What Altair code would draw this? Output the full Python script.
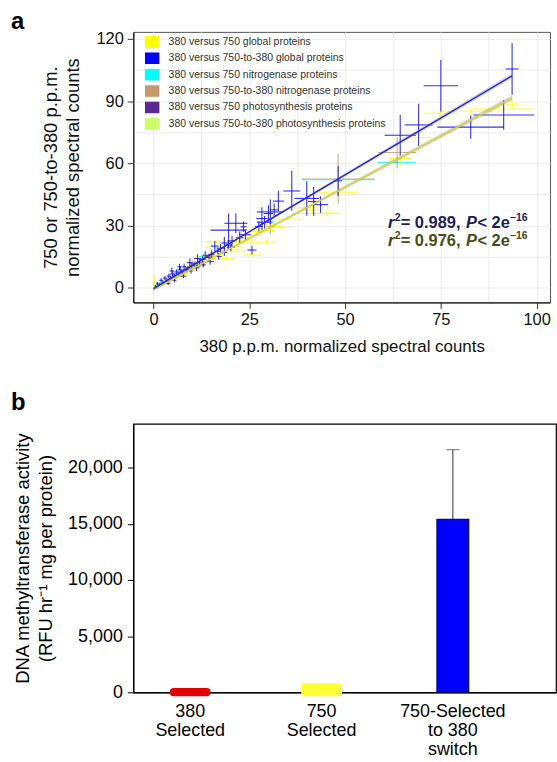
import altair as alt
import pandas as pd

FONT = "Liberation Sans"

# ---------------- panel a data ----------------
series_names = [
    "380 versus 750 global proteins",
    "380 versus 750-to-380 global proteins",
    "380 versus 750 nitrogenase proteins",
    "380 versus 750-to-380 nitrogenase proteins",
    "380 versus 750 photosynthesis proteins",
    "380 versus 750-to-380 photosynthesis proteins",
]
series_colors = ["#ffff00", "#0000ff", "#00ffff", "#c49a6c", "#5b2a8c", "#ccff66"]

# (x, y, x error, y error)
yellow_pts = [
    (93.6, 88.5, 1.7, 2.5), (91.4, 86.2, 7.9, 1.0), (82.8, 85.1, 8.0, 2.0), (75.0, 84.1, 4.5, 3.6),
    (69.2, 72.3, 3.3, 1.5), (64.4, 62.3, 3.0, 3.6), (48.2, 46.0, 5.0, 2.0), (42.3, 35.7, 6.3, 1.0),
    (45.5, 36.0, 2.5, 1.5), (39.5, 38.5, 3.0, 1.5), (41.5, 37.5, 2.0, 2.0), (35.0, 33.0, 4.0, 1.5),
    (31.0, 29.5, 2.5, 2.0), (28.5, 27.5, 3.5, 1.5), (27.0, 26.8, 2.0, 1.5), (25.5, 25.0, 3.0, 1.2),
    (24.5, 23.0, 2.0, 1.5), (23.0, 21.5, 4.5, 1.2), (21.5, 22.5, 3.0, 1.5), (20.0, 18.5, 2.5, 1.5),
    (18.5, 19.5, 5.0, 1.2), (16.4, 22.1, 3.2, 1.0), (17.5, 16.5, 3.5, 1.2), (16.0, 15.0, 2.0, 1.5),
    (14.5, 13.5, 3.0, 1.0), (13.5, 14.8, 2.5, 1.2), (12.5, 11.5, 2.0, 1.0), (11.0, 11.0, 2.5, 1.0),
    (10.0, 9.0, 1.5, 1.2), (9.0, 8.5, 2.0, 1.0), (8.0, 7.0, 1.5, 0.8), (7.0, 6.5, 1.8, 1.0),
    (6.0, 5.0, 1.2, 0.8), (5.0, 4.5, 1.5, 1.0), (4.0, 3.5, 1.0, 0.8), (3.0, 2.5, 1.2, 0.8),
    (2.0, 2.0, 0.8, 0.6), (1.0, 1.0, 0.6, 0.5), (0.2, 3.0, 0.3, 3.0), (26.0, 15.7, 2.5, 1.0),
    (29.5, 22.0, 3.0, 1.0), (33.5, 29.0, 2.5, 1.5), (22.0, 17.5, 2.0, 1.0), (19.0, 14.0, 2.0, 1.0),
]
blue_pts = [
    (93.6, 105.5, 1.7, 12.4), (75.0, 97.4, 4.5, 12.4), (82.8, 77.4, 8.7, 5.6), (91.4, 83.3, 7.9, 7.2),
    (69.2, 78.5, 3.6, 10.2), (64.4, 73.5, 4.1, 9.8), (48.2, 51.5, 1.0, 7.2), (40.0, 43.0, 3.2, 8.4),
    (41.8, 41.5, 1.5, 7.0), (43.6, 40.0, 2.0, 4.0), (36.1, 46.6, 2.2, 9.6), (32.6, 41.7, 1.5, 5.0),
    (30.5, 36.5, 3.5, 6.0), (28.3, 33.3, 1.5, 5.5), (30.0, 35.7, 1.2, 4.0), (31.5, 37.5, 1.0, 3.0),
    (29.0, 31.5, 2.0, 3.0), (27.5, 29.5, 1.0, 2.5), (19.6, 27.7, 4.7, 8.0), (21.5, 31.0, 3.0, 4.8),
    (23.5, 29.3, 0.8, 2.5), (25.7, 18.1, 1.2, 2.0), (24.0, 25.5, 1.5, 2.5), (22.5, 24.0, 1.0, 3.0),
    (20.5, 22.5, 1.2, 2.5), (19.5, 20.5, 1.0, 2.0), (18.5, 21.5, 0.8, 3.0), (17.5, 19.0, 1.0, 2.0),
    (16.8, 17.5, 0.8, 1.5), (16.0, 20.0, 1.0, 2.5), (15.2, 16.0, 0.8, 2.0), (14.5, 14.5, 1.0, 1.5),
    (13.5, 15.5, 0.7, 2.0), (12.8, 13.5, 0.8, 1.5), (12.0, 12.0, 0.6, 1.5), (11.5, 14.0, 1.0, 2.0),
    (10.8, 11.5, 0.8, 1.2), (10.0, 10.5, 0.7, 1.5), (9.5, 12.0, 0.8, 2.0), (9.0, 9.5, 0.6, 1.0),
    (8.5, 8.5, 0.8, 1.5), (8.0, 10.0, 0.5, 1.5), (7.5, 7.5, 0.6, 1.0), (7.0, 8.5, 0.8, 1.5),
    (6.5, 6.5, 0.5, 1.0), (6.0, 7.5, 0.6, 1.2), (5.5, 5.5, 0.5, 1.0), (5.0, 6.5, 0.8, 1.5),
    (4.5, 4.5, 0.5, 1.0), (4.0, 5.5, 0.6, 1.2), (3.5, 3.5, 0.5, 0.8), (3.0, 4.5, 0.5, 1.0),
    (2.5, 2.5, 0.4, 0.8), (2.0, 3.5, 0.5, 1.0), (1.5, 1.5, 0.4, 0.6), (1.0, 2.0, 0.3, 0.8),
    (0.5, 0.8, 0.3, 0.5), (3.8, 2.0, 0.6, 0.8), (5.5, 3.5, 0.5, 1.0), (7.8, 5.5, 0.8, 1.0),
    (9.8, 8.0, 0.6, 1.2), (11.2, 9.5, 0.8, 1.5), (13.0, 11.0, 0.6, 1.2), (14.8, 12.5, 1.0, 1.5),
    (17.0, 15.0, 0.8, 1.5), (18.5, 17.0, 0.8, 1.8), (20.2, 19.5, 1.0, 2.0), (6.8, 10.0, 0.6, 1.5),
    (4.8, 8.0, 0.6, 1.5),
]
cyan_pts = [
    (63.5, 60.4, 5.0, 0.8), (48.2, 52.0, 9.5, 0.8), (30.9, 31.6, 0.8, 1.0), (12.7, 14.9, 0.8, 1.2),
    (6.7, 7.7, 0.5, 0.8), (1.7, 2.2, 0.4, 0.6), (0.5, 0.5, 0.3, 0.4),
]
tan_pts = [
    (63.6, 65.2, 5.0, 7.6), (48.2, 52.4, 9.5, 12.0), (30.5, 29.6, 1.0, 4.0), (14.9, 15.7, 1.0, 1.5),
    (10.1, 11.9, 0.8, 1.5), (12.0, 10.5, 1.5, 1.0), (1.2, 1.5, 0.4, 0.5),
]
purple_pts = [(13.0, 12.0, 0.6, 0.8), (11.5, 10.5, 0.8, 1.0), (2.5, 2.0, 0.3, 0.5)]
lightgreen_pts = [(13.5, 14.5, 0.8, 1.0), (0.8, 1.2, 0.3, 0.4), (5.8, 6.0, 0.5, 0.7)]

# regression lines and their confidence bands
fit_x = [0, 93.6]
fit_blue_y = [-0.5, 102.2]
fit_yellow_y = [-1.0, 91.5]
band_x = [0, 20, 93.6]
band_blue_lo = [-1.3, 21.0, 101.0]
band_blue_hi = [0.3, 21.9, 103.4]
band_yellow_lo = [-1.8, 18.3, 90.3]
band_yellow_hi = [-0.2, 19.2, 92.7]

stat_r2 = ["0.989", "0.976"]
stat_x = [61.2, 61.2]
stat_y = [28.5, 20.0]
stat_colors = ["#1e1e5a", "#4b4b14"]

# ---------------- panel b data ----------------
b_cats = ["380|Selected", "750|Selected", "750-Selected|to 380|switch"]
b_values = [30, 450, 15400]
b_err = [0, 0, 6200]
b_colors = ["#e00000", "#ffff33", "#0000ff"]

# ---------------- build panel a ----------------
order = [0, 4, 5, 2, 3, 1]
all_pts = [yellow_pts, blue_pts, cyan_pts, tan_pts, purple_pts, lightgreen_pts]
rows = []
for i in order:
    for (x, y, xe, ye) in all_pts[i]:
        rows.append(dict(series=series_names[i], x=x, y=y,
                         x_lo=x - xe, x_hi=x + xe, y_lo=y - ye, y_hi=y + ye))
df = pd.DataFrame(rows)

xs = alt.Scale(domain=[-5.27, 103.5], nice=False, zero=False)
ys = alt.Scale(domain=[-7.2, 123.4], nice=False, zero=False)
cscale = alt.Scale(domain=series_names, range=series_colors)

x_axis = alt.Axis(
    values=[0, 12.5, 25, 37.5, 50, 62.5, 75, 87.5, 100],
    labelExpr="datum.value % 25 === 0 ? datum.label : ''",
    tickOpacity={"condition": {"test": "datum.value % 25 === 0", "value": 1}, "value": 0},
    title="380 p.p.m. normalized spectral counts",
    grid=True, gridColor="#ececec", gridWidth=1,
    tickSize=6, tickColor="#333", domainColor="#222", domainWidth=1.3,
    labelFontSize=16.5, labelColor="#111", labelPadding=3,
    titleFontSize=17, titleFontWeight="normal", titleColor="#111", titlePadding=11,
)
y_axis = alt.Axis(
    values=[0, 15, 30, 45, 60, 75, 90, 105, 120],
    labelExpr="datum.value % 30 === 0 ? datum.label : ''",
    tickOpacity={"condition": {"test": "datum.value % 30 === 0", "value": 1}, "value": 0},
    title=["750 or 750-to-380 p.p.m.", "normalized spectral counts"],
    grid=True, gridColor="#ececec", gridWidth=1,
    tickSize=6, tickColor="#333", domainColor="#222", domainWidth=1.3,
    labelFontSize=16.5, labelColor="#111", labelPadding=4,
    titleFontSize=18.5, titleFontWeight="normal", titleColor="#111", titlePadding=14,
    titleLineHeight=22,
)
legend_a = alt.Legend(
    title=None, orient="none", legendX=11.5, legendY=2.5, padding=0,
    symbolType="M-1,-0.8H1V0.8H-1Z", symbolSize=210, symbolOpacity=1,
    symbolStrokeWidth=0, rowPadding=2.5, labelOffset=9, labelFontSize=10.5,
    labelColor="#333", labelLimit=400, labelFont=FONT,
)


def X(field):
    return alt.X(field, scale=xs, axis=x_axis)


def Y(field):
    return alt.Y(field, scale=ys, axis=y_axis)


color_a = alt.Color("series:N", scale=cscale, legend=legend_a)

legend_layer = alt.Chart(df).mark_square(opacity=0, filled=True).encode(
    x=X("x:Q"), y=Y("y:Q"), color=color_a)
hbars = alt.Chart(df).mark_rule(strokeWidth=1.1, opacity=0.8).encode(
    x=X("x_lo:Q"), x2="x_hi:Q", y=Y("y:Q"), color=color_a)
vbars = alt.Chart(df).mark_rule(strokeWidth=1.1, opacity=0.8).encode(
    x=X("x:Q"), y=Y("y_lo:Q"), y2="y_hi:Q", color=color_a)

band_df = pd.DataFrame({"x": band_x, "blo": band_blue_lo, "bhi": band_blue_hi,
                        "ylo": band_yellow_lo, "yhi": band_yellow_hi})
band_b = alt.Chart(band_df).mark_area(color="#888", opacity=0.35).encode(
    x=X("x:Q"), y=Y("blo:Q"), y2="bhi:Q")
band_y = alt.Chart(band_df).mark_area(color="#888", opacity=0.35).encode(
    x=X("x:Q"), y=Y("ylo:Q"), y2="yhi:Q")

fit_df = pd.DataFrame({"x": fit_x, "blue": fit_blue_y, "yellow": fit_yellow_y})
line_b = alt.Chart(fit_df).mark_line(color="#2323d0", strokeWidth=1.4).encode(x=X("x:Q"), y=Y("blue:Q"))
line_y = alt.Chart(fit_df).mark_line(color="#dcd23c", strokeWidth=1.4).encode(x=X("x:Q"), y=Y("yellow:Q"))

stat_layers = []
for sx, sy, r2, col in zip(stat_x, stat_y, stat_r2, stat_colors):
    sdf = pd.DataFrame({"x": [sx], "y": [sy]})
    pieces = [
        ("r", 0, 0, 16.5, "italic"),
        ("2", 6.8, -7.5, 10.5, "normal"),
        ("= " + r2 + ",", 12.8, 0, 16.5, "normal"),
        ("P", 78.5, 0, 16.5, "italic"),
        ("< 2e", 90, 0, 16.5, "normal"),
        ("\u221216", 122.5, -7.5, 10.5, "normal"),
    ]
    for txt, dx, dy, fs, style in pieces:
        stat_layers.append(
            alt.Chart(sdf).mark_text(
                text=txt, align="left", baseline="alphabetic", dx=dx, dy=dy,
                fontSize=fs, fontStyle=style, fontWeight="bold", color=col, font=FONT,
            ).encode(x=X("x:Q"), y=Y("y:Q"))
        )

panel_a = alt.layer(legend_layer, hbars, vbars, band_y, band_b, line_y, line_b, *stat_layers).properties(
    width=419, height=272,
    title=alt.TitleParams("a", anchor="start", frame="group", fontSize=24, fontWeight="bold",
                          font=FONT, dx=-123, offset=-3, color="black"),
    view=alt.ViewBackground(stroke="#555", strokeWidth=1),
)

# ---------------- build panel b ----------------
dfb = pd.DataFrame({"cat": b_cats, "value": b_values, "err": b_err})
dfb["hi"] = dfb["value"] + dfb["err"]

xb_scale = alt.Scale(domain=b_cats, paddingInner=0.7576, paddingOuter=0.4886, align=0.32)
xb_axis = alt.Axis(title=None, labelAngle=0, labelExpr="split(datum.label, '|')", ticks=False,
                   labelFontSize=18, labelLineHeight=19.5, labelPadding=10, labelColor="black",
                   labelBaseline="top", domainColor="black", domainWidth=1.3, labelFont=FONT)
yb_scale = alt.Scale(domain=[0, 23900], nice=False)
yb_axis = alt.Axis(values=[0, 5000, 10000, 15000, 20000], format=",.0f", grid=False,
                   tickSize=6, tickColor="black", domainColor="black", domainWidth=1.3,
                   labelFontSize=18, labelColor="black", labelPadding=5, labelFont=FONT,
                   title=["DNA methyltransferase activity", "(RFU hr\u207b\u00b9 mg per protein)"],
                   titleFontSize=18.5, titleFontWeight="normal", titleColor="black",
                   titleLineHeight=23.5, titlePadding=12, titleFont=FONT)


def XB():
    return alt.X("cat:N", sort=b_cats, scale=xb_scale, axis=xb_axis)


def YB(field):
    return alt.Y(field, scale=yb_scale, axis=yb_axis)


bcol = alt.Scale(domain=b_cats, range=b_colors)

small_bars = alt.Chart(dfb).transform_filter("datum.err == 0").mark_bar(
    size=33, strokeWidth=8, strokeJoin="round").encode(
    x=XB(), y=YB("value:Q"),
    fill=alt.Fill("cat:N", scale=bcol, legend=None),
    stroke=alt.Stroke("cat:N", scale=bcol, legend=None),
)
big_bar = alt.Chart(dfb).transform_filter("datum.err > 0").mark_bar(
    size=32, stroke="#10103a", strokeWidth=1.2).encode(
    x=XB(), y=YB("value:Q"),
    fill=alt.Fill("cat:N", scale=bcol, legend=None),
)
err_rule = alt.Chart(dfb).transform_filter("datum.err > 0").mark_rule(color="#555", strokeWidth=1.2).encode(
    x=XB(), y=YB("value:Q"), y2="hi:Q")
err_cap = alt.Chart(dfb).transform_filter("datum.err > 0").mark_tick(
    color="#555", size=13, thickness=1.2, orient="horizontal").encode(
    x=XB(), y=YB("hi:Q"))

panel_b = alt.layer(small_bars, err_rule, big_bar, err_cap).properties(
    width=425, height=270,
    title=alt.TitleParams("b", anchor="start", frame="group", fontSize=24, fontWeight="bold",
                          font=FONT, dx=-123, offset=9, color="black"),
    view=alt.ViewBackground(stroke="black", strokeWidth=1.2),
)

chart = alt.vconcat(panel_a, panel_b, spacing=35).resolve_scale(
    color="independent", fill="independent", stroke="independent"
).properties(
    padding={"left": 10, "top": 7, "right": 0, "bottom": 0}
).configure(font=FONT).configure_axis(labelFont=FONT, titleFont=FONT)

chart.save("out.html", embed_options={"renderer": "svg", "actions": False})
